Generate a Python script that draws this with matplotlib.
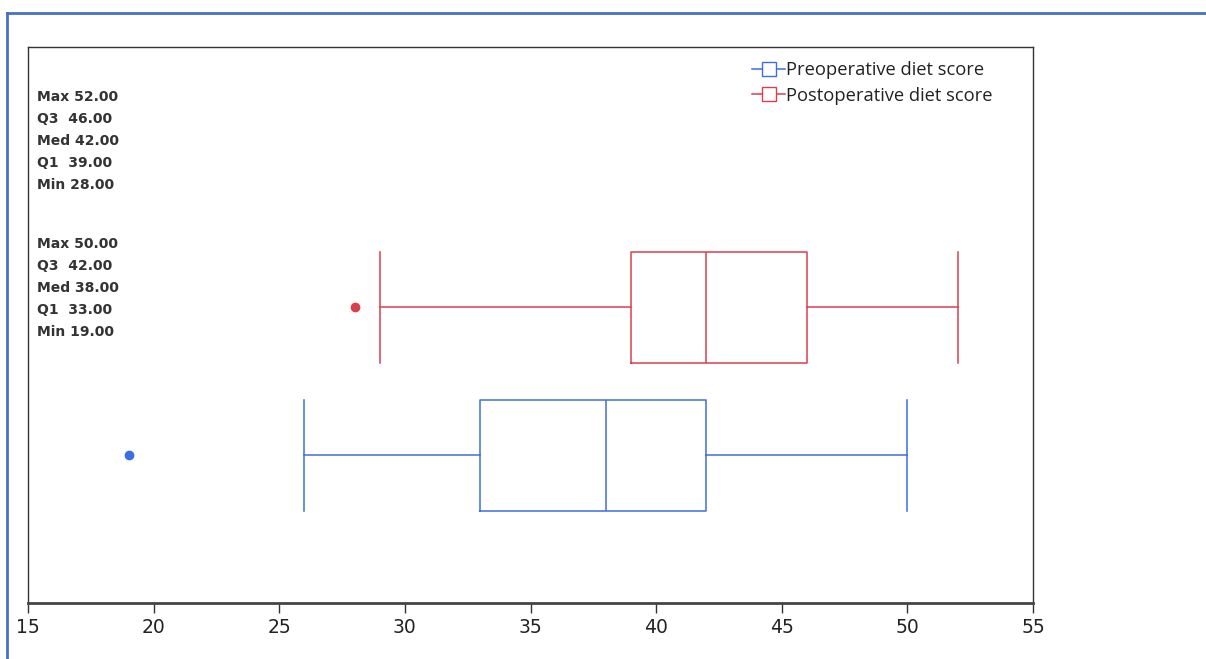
import matplotlib
matplotlib.use("Agg")
import matplotlib.pyplot as plt
from matplotlib.lines import Line2D

# Data
series = ["Preoperative diet score", "Postoperative diet score"]
colors = ["#3E6DE0", "#D9404F"]
whislo = [26, 29]
q1 = [33, 39]
med = [38, 42]
q3 = [42, 46]
whishi = [50, 52]
outliers = [[19], [28]]
stat_max = [50.00, 52.00]
stat_min = [19.00, 28.00]
xticks = [15, 20, 25, 30, 35, 40, 45, 50, 55]

W, H = 1206, 659
fig = plt.figure(figsize=(W / 100, H / 100), dpi=100)
ax = fig.add_axes([28 / W, 1 - 603 / H, (1033 - 28) / W, (603 - 47) / H])

positions = [1, 2]
for i in range(2):
    stats = [dict(whislo=whislo[i], q1=q1[i], med=med[i], q3=q3[i],
                  whishi=whishi[i], fliers=outliers[i])]
    c = colors[i]
    ax.bxp(stats, positions=[positions[i]], vert=False, widths=0.75,
           showfliers=True,
           boxprops=dict(color=c, lw=1.1),
           medianprops=dict(color=c, lw=1.1),
           whiskerprops=dict(color=c, lw=1.1),
           capprops=dict(color=c, lw=1.1),
           capwidths=0.75,
           flierprops=dict(marker='o', markerfacecolor=c, markeredgecolor=c,
                           markersize=6))

ax.set_xlim(15, 55)
ax.set_ylim(0, 3.757)
ax.set_xticks(xticks)
ax.set_xticklabels([str(t) for t in xticks], fontsize=13.5,
                   fontfamily=["DejaVu Sans"], color="#222222")
ax.set_yticks([])
ax.tick_params(axis='x', direction='out', length=7, width=1, color="#333333", pad=4)
for s in ["top", "left", "right"]:
    ax.spines[s].set_color("#333333")
    ax.spines[s].set_linewidth(1.0)
ax.spines["bottom"].set_color("#444444")
ax.spines["bottom"].set_linewidth(2.0)

# Stats text blocks
def block(i):
    return (f"Max {stat_max[i]:.2f}\nQ3  {q3[i]:.2f}\nMed {med[i]:.2f}\n"
            f"Q1  {q1[i]:.2f}\nMin {stat_min[i]:.2f}")

tx = 9 / (1033 - 28)
for i, ytop in [(1, 90), (0, 237)]:
    ax.text(tx, 1 - (ytop - 47) / 556, block(i),
            transform=ax.transAxes, va="top", ha="left", fontsize=10,
            fontweight="bold", color="#333333", linespacing=1.72,
            fontfamily="DejaVu Sans")

handles = [Line2D([0], [0], color=colors[i], lw=1.1, marker='s', markersize=10,
                  markerfacecolor='white', markeredgecolor=colors[i])
           for i in range(2)]
leg = ax.legend(handles, series, loc="upper left",
                bbox_to_anchor=((752 - 28) / 1005, 1 - (61 - 47) / 556),
                frameon=False, fontsize=13.2, handlelength=1.8, handletextpad=0.05,
                labelspacing=0.42, borderaxespad=0, borderpad=0)
for t in leg.get_texts():
    t.set_color("#222222")
    t.set_fontfamily("Open Sans")

# Outer blue frame
fc = "#4472C4"
fig.add_artist(Line2D([7 / W, 1], [1 - 13 / H, 1 - 13 / H], transform=fig.transFigure,
                      color=fc, lw=2))
fig.add_artist(Line2D([7 / W, 7 / W], [0, 1 - 13 / H], transform=fig.transFigure,
                      color=fc, lw=2))

fig.savefig("out.png", dpi=100)
